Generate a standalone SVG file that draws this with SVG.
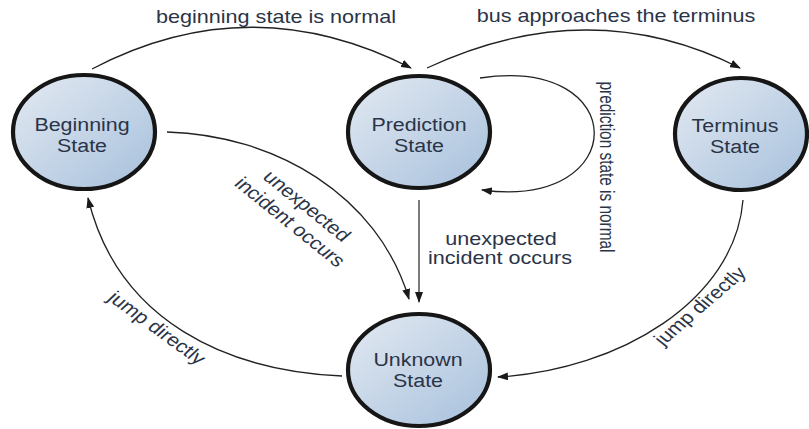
<svg xmlns="http://www.w3.org/2000/svg" width="809" height="429" viewBox="0 0 809 429">
<defs>
<linearGradient id="nodeFill" x1="0" y1="0" x2="1" y2="1">
<stop offset="0" stop-color="#e4eaf2"/>
<stop offset="1" stop-color="#a6c0dc"/>
</linearGradient>
<marker id="arr" markerUnits="userSpaceOnUse" markerWidth="11" markerHeight="8" refX="10" refY="4" orient="auto">
<path d="M0,0 L11,4 L0,8 Z" fill="#1a1a1a"/>
</marker>
</defs>
<style>
.node ellipse{fill:url(#nodeFill);stroke:#161616;stroke-width:4.2}
.node text{font-family:"Liberation Sans",Arial,sans-serif;font-size:18px;fill:#2b3447;text-anchor:middle}
.edge{fill:none;stroke:#222;stroke-width:1.3;marker-end:url(#arr)}
.edge.gray{stroke:#7a7a7a;stroke-width:2}
.lbl{font-family:"Liberation Sans",Arial,sans-serif;font-size:18px;fill:#2b3447;text-anchor:middle}
</style>
<rect width="809" height="429" fill="#ffffff"/>
<g id="connectors">
<path class="edge" d="M92,69 Q250,-14 411,68"/>
<path class="edge" d="M427,68 Q590,-8 740,68"/>
<path class="edge" d="M480,78 C632,55 632,210 482,190"/>
<path class="edge" d="M167,132 C275,135 378,195 409,299"/>
<path class="edge gray" d="M419,200 L419,302"/>
<path class="edge" d="M342,376 C228,371 118,322 88,198"/>
<path class="edge" d="M743,200 C735,300 620,370 498,377"/>
</g>
<g id="labels">
<text class="lbl" transform="translate(276,0) scale(1.2,1)" x="0" y="23">beginning state is normal</text>
<text class="lbl" transform="translate(616,0) scale(1.2,1)" x="0" y="22">bus approaches the terminus</text>
<text class="lbl" transform="translate(600,167) scale(1.35,1) rotate(90)" x="0" y="0" style="font-size:15.4px">prediction state is normal</text>
<text class="lbl" transform="translate(501,0) scale(1.2,1)" x="0" y="245">unexpected</text>
<text class="lbl" transform="translate(500,0) scale(1.2,1)" x="0" y="264">incident occurs</text>
<text class="lbl" transform="translate(307,206) scale(1.2,1) rotate(44)" x="0" y="6">unexpected</text>
<text class="lbl" transform="translate(290,222) scale(1.2,1) rotate(44)" x="0" y="6">incident occurs</text>
<text class="lbl" transform="translate(157,328) scale(1.2,1) rotate(41)" x="0" y="6">jump directly</text>
<text class="lbl" transform="translate(700,306) scale(1.2,1) rotate(-46)" x="0" y="6">jump directly</text>
</g>
<g id="node-beginning" class="node">
<ellipse cx="84" cy="132" rx="71" ry="57"/>
<text transform="translate(82,0) scale(1.19,1)" x="0" y="131">Beginning</text>
<text transform="translate(82,0) scale(1.19,1)" x="0" y="152">State</text>
</g>
<g id="node-prediction" class="node">
<ellipse cx="419" cy="132" rx="71" ry="56"/>
<text transform="translate(419,0) scale(1.19,1)" x="0" y="131">Prediction</text>
<text transform="translate(419,0) scale(1.19,1)" x="0" y="152">State</text>
</g>
<g id="node-terminus" class="node">
<ellipse cx="741" cy="134" rx="66" ry="56"/>
<text transform="translate(735,0) scale(1.19,1)" x="0" y="132">Terminus</text>
<text transform="translate(735,0) scale(1.19,1)" x="0" y="153">State</text>
</g>
<g id="node-unknown" class="node">
<ellipse cx="419" cy="370" rx="71" ry="56"/>
<text transform="translate(418,0) scale(1.19,1)" x="0" y="366">Unknown</text>
<text transform="translate(418,0) scale(1.19,1)" x="0" y="387">State</text>
</g>
</svg>
